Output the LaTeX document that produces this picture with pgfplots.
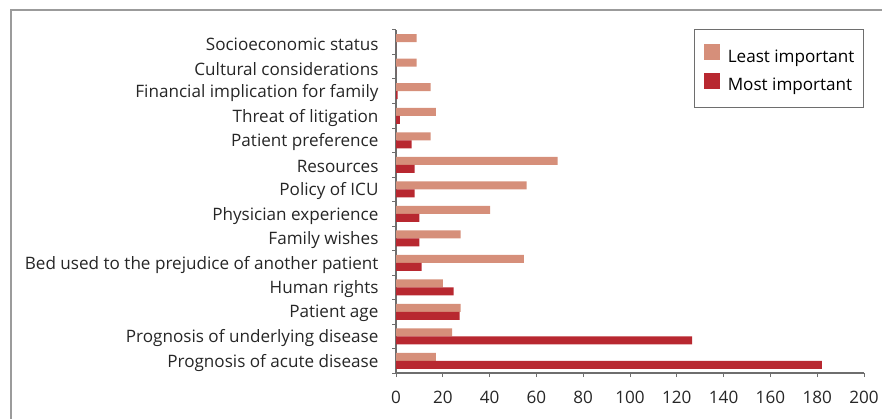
\documentclass[border=0pt]{standalone}
\usepackage{pgfplots}
\pgfplotsset{compat=1.18}
\usepackage{fontspec}
\setmainfont{Open Sans}
\definecolor{least}{RGB}{214,143,122}
\definecolor{most}{RGB}{184,40,48}
\definecolor{axgray}{RGB}{110,110,110}
\definecolor{framegray}{RGB}{155,155,155}
\begin{document}
\begin{tikzpicture}
\useasboundingbox (0pt,0pt) rectangle (882pt,418pt);
\draw[framegray, line width=1.5pt] (11pt,-5pt) -- (11pt,408pt) -- (890pt,408pt);
\begin{axis}[
  at={(396pt,45pt)}, anchor=south west,
  scale only axis, width=468pt, height=343pt,
  xmin=0, xmax=200, ymin=-0.5, ymax=13.5,
  axis x line*=bottom, axis y line*=left,
  axis line style={axgray, line width=1.2pt},
  xtick={0,20,...,200},
  ytick={0,...,13},
  yticklabels={Prognosis of acute disease,Prognosis of underlying disease,Patient age,Human rights,Bed used to the prejudice of another patient,Family wishes,Physician experience,Policy of ICU,Resources,Patient preference,Threat of litigation,Financial implication for family,Cultural considerations,Socioeconomic status},
  minor ytick={-0.5,0.5,...,13.5},
  major y tick style={draw=none},
  minor y tick style={axgray, line width=1pt},
  minor tick length=4pt,
  major x tick style={axgray, line width=1pt},
  major tick length=4pt,
  tick align=outside,
  /pgf/number format/assume math mode=true,
  tick label style={font=\fontsize{17.1}{20}\selectfont, text=black!85},
  yticklabel style={xshift=-10pt, yshift=-2pt},
  xticklabel style={yshift=-11pt},
  xbar, bar width=8pt,
  legend style={at={(1,1)}, anchor=north east, xshift=0pt, yshift=1pt,
    draw=axgray, line width=1pt, font=\fontsize{17.1}{20}\selectfont,
    inner xsep=9pt, inner ysep=15pt, row sep=9.8pt, column sep=8pt,
    nodes={inner sep=0pt}, cells={anchor=west}},
  legend image code/.code={\fill[#1] (0pt,-4pt) rectangle (16pt,12pt);},
  legend cell align=left,
]
\addplot[fill=least, draw=none, bar shift=4pt] coordinates {
(17,0) (24,1) (27.6,2) (20,3) (54.6,4) (27.6,5) (40.2,6) (55.8,7) (69.1,8) (14.8,9) (17,10) (14.8,11) (8.8,12) (8.8,13)};
\addlegendentry{Least important}
\addplot[fill=most, draw=none, bar shift=-4pt] coordinates {
(182,0) (126.5,1) (27.2,2) (24.6,3) (11,4) (10,5) (10,6) (8,7) (8,8) (6.7,9) (1.7,10) (0.7,11) (0,12) (0,13)};
\addlegendentry{Most important}
\end{axis}
\end{tikzpicture}
\end{document}
